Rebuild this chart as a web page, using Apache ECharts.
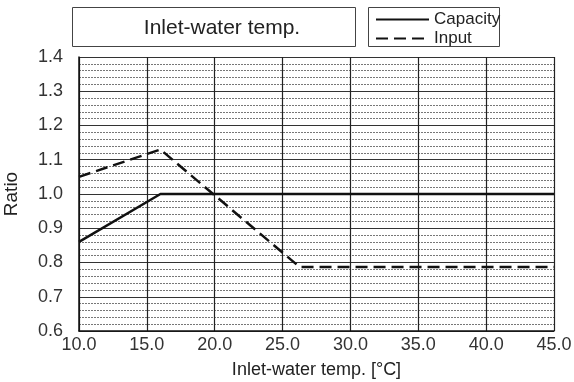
<!DOCTYPE html>
<html>
<head>
<meta charset="utf-8">
<script src="https://cdn.jsdelivr.net/npm/echarts@6/dist/echarts.min.js"></script>
<style>
  html, body { margin: 0; padding: 0; background: #fff; }
  #chart { width: 574px; height: 382px; }
</style>
</head>
<body>
<div id="chart"></div>
<script>
// data
var capacityX = [10, 16, 45]
var capacityY = [0.86, 1.0, 1.0]
var inputX = [10, 16, 26.25, 45]
var inputY = [1.05, 1.13, 0.787, 0.787]
var xTicks = [10, 15, 20, 25, 30, 35, 40, 45]
var yTicks = [0.6, 0.7, 0.8, 0.9, 1.0, 1.1, 1.2, 1.3, 1.4]

function pairs (xs, ys) {
  return xs.map(function (x, i) { return [x, ys[i]] })
}

var font = 'Liberation Sans, Arial, sans-serif'
var chart = echarts.init(document.getElementById('chart'))

chart.setOption({
  backgroundColor: '#fff',
  animation: false,
  textStyle: { fontFamily: font },
  grid: { left: 79, right: 20, top: 57, bottom: 51, outerBoundsMode: 'none' },
  graphic: [
    { type: 'rect', shape: { x: 72.5, y: 7.5, width: 283, height: 39 },
      style: { fill: '#fff', stroke: '#444', lineWidth: 1 } },
    { type: 'text', x: 222, y: 28,
      style: { text: 'Inlet-water temp.', font: '21px ' + font, fill: '#222',
               textAlign: 'center', textVerticalAlign: 'middle' } },
    { type: 'rect', shape: { x: 368.5, y: 7.5, width: 131, height: 39 },
      style: { fill: '#fff', stroke: '#444', lineWidth: 1 }, z: -1 }
  ],
  legend: {
    orient: 'vertical',
    left: 375,
    top: 10,
    padding: 0,
    itemWidth: 53,
    itemHeight: 14,
    itemGap: 0,
    itemStyle: { opacity: 0 },
    textStyle: { fontSize: 17, color: '#222', lineHeight: 19 },
    data: ['Capacity', 'Input']
  },
  xAxis: {
    type: 'value',
    min: xTicks[0],
    max: xTicks[xTicks.length - 1],
    interval: 5,
    name: 'Inlet-water temp. [°C]',
    nameLocation: 'middle',
    nameGap: 30,
    nameTextStyle: { fontSize: 18, color: '#222' },
    axisLine: { lineStyle: { color: '#111', width: 1.5 } },
    axisTick: { show: false },
    axisLabel: { fontSize: 18, color: '#333', margin: 5,
                 formatter: function (v) { return v.toFixed(1) } },
    splitLine: { show: true, lineStyle: { color: '#222', width: 1.2 } }
  },
  yAxis: {
    type: 'value',
    min: yTicks[0],
    max: yTicks[yTicks.length - 1],
    interval: 0.1,
    name: 'Ratio',
    nameLocation: 'middle',
    nameGap: 58,
    nameTextStyle: { fontSize: 19, color: '#222' },
    axisLine: { show: true, lineStyle: { color: '#111', width: 1.5 } },
    axisTick: { show: false },
    axisLabel: { fontSize: 18, color: '#333', margin: 16,
                 formatter: function (v) { return v.toFixed(1) } },
    splitLine: { show: true, lineStyle: { color: '#333', width: 1.2 } },
    minorTick: { show: false, splitNumber: 5 },
    minorSplitLine: { show: true, lineStyle: { color: '#777', type: [2, 1], width: 1 } }
  },
  series: [
    {
      name: 'Capacity',
      type: 'line',
      symbol: 'none',
      data: pairs(capacityX, capacityY),
      lineStyle: { color: '#111', width: 2.5 },
      itemStyle: { color: '#111' },
      z: 5
    },
    {
      name: 'Input',
      type: 'line',
      symbol: 'none',
      data: pairs(inputX, inputY),
      lineStyle: { color: '#111', width: 2.5, type: [12, 6] },
      itemStyle: { color: '#111' },
      z: 5
    }
  ]
})
</script>
</body>
</html>
